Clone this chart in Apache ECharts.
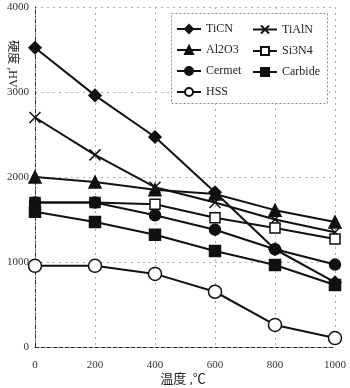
<!DOCTYPE html>
<html><head><meta charset="utf-8">
<script src="https://cdn.jsdelivr.net/npm/echarts@6/dist/echarts.min.js"></script>
<style>html,body{margin:0;padding:0;background:#fff}#c{width:350px;height:388px}</style>
</head><body><div id="c"></div>
<script>
const temps = [0, 200, 400, 600, 800, 1000];
const TiCN    = [3520, 2960, 2470, 1820, 1150, 760];
const TiAlN   = [2700, 2260, 1880, 1700, 1500, 1350];
const Al2O3   = [2000, 1940, 1850, 1800, 1610, 1470];
const Si3N4   = [1700, 1700, 1680, 1520, 1400, 1270];
const Cermet  = [1700, 1700, 1550, 1380, 1150, 970];
const Carbide = [1590, 1470, 1320, 1130, 965, 730];
const HSS     = [955, 955, 860, 650, 260, 105];
const xTicks = [0, 200, 400, 600, 800, 1000];
const yTicks = [0, 1000, 2000, 3000, 4000];

const serif = 'Liberation Serif, "Noto Sans CJK SC", serif';
const chart = echarts.init(document.getElementById('c'));
const xPath = 'path://M0,0L10,10M10,0L0,10';
function mk(name, data, symbol, size, extra) {
  return Object.assign({
    name, type: 'line', data: temps.map((t, i) => [t, data[i]]),
    symbol, symbolSize: size, showSymbol: true,
    lineStyle: { color: '#111', width: 2 },
    itemStyle: { color: '#111', borderColor: '#111', borderWidth: 1.5 },
    z: 3
  }, extra || {});
}
const series = [
  mk('TiCN', TiCN, 'diamond', 12),
  mk('TiAlN', TiAlN, xPath, 11, { itemStyle: { color: 'none', borderColor: '#111', borderWidth: 1.5 } }),
  mk('Al2O3', Al2O3, 'triangle', 12),
  mk('Si3N4', Si3N4, 'rect', 10, { itemStyle: { color: '#fff', borderColor: '#111', borderWidth: 1.5 } }),
  mk('Cermet', Cermet, 'circle', 11),
  mk('Carbide', Carbide, 'rect', 11),
  mk('HSS', HSS, 'circle', 13, { itemStyle: { color: '#fff', borderColor: '#111', borderWidth: 1.5 } })
];
const legendBase = {
  orient: 'vertical', itemWidth: 24, itemHeight: 10, itemGap: 9,
  textStyle: { fontFamily: serif, fontSize: 12, color: '#222' },
  padding: 0, selectedMode: false
};
chart.setOption({
  animation: false,
  backgroundColor: '#fff',
  grid: { left: 35, right: 15, top: 7, bottom: 41 },
  xAxis: {
    type: 'value', min: 0, max: 1000, interval: 200,
    axisLine: { show: true, onZero: false, lineStyle: { color: '#333', type: 'dashed', width: 1 } },
    axisTick: { show: false },
    axisLabel: { fontFamily: serif, fontSize: 11, color: '#333', margin: 13,
      formatter: v => xTicks.includes(v) ? String(v) : '' },
    splitLine: { show: true, lineStyle: { color: '#aaa', type: [2, 4], width: 1 } }
  },
  yAxis: {
    type: 'value', min: 0, max: 4000, interval: 1000,
    axisLine: { show: true, lineStyle: { color: '#333', type: [4, 2, 1, 2], width: 1 } },
    axisTick: { show: false },
    axisLabel: { fontFamily: serif, fontSize: 11, color: '#333', margin: 6,
      formatter: v => yTicks.includes(v) ? String(v) : '' },
    splitLine: { show: true, lineStyle: { color: '#aaa', type: [2, 4], width: 1 } }
  },
  legend: [
    Object.assign({}, legendBase, { left: 176, top: 23, data: ['TiCN', 'Al2O3', 'Cermet', 'HSS'] }),
    Object.assign({}, legendBase, { left: 252, top: 23, data: ['TiAlN', 'Si3N4', 'Carbide'] })
  ],
  graphic: [
    { type: 'rect', left: 171, top: 13, shape: { width: 156, height: 90 },
      style: { fill: '#fff', stroke: '#888', lineWidth: 1, lineDash: [2, 2] }, z: 1 },
    { type: 'text', x: 12, y: 64, rotation: -Math.PI / 2,
      style: { text: '硬度 ,HV', font: '12px ' + serif, fill: '#222', textAlign: 'center', textVerticalAlign: 'middle' } },
    { type: 'text', x: 183, y: 380,
      style: { text: '温度 ,℃', font: '13px ' + serif, fill: '#222', textAlign: 'center', textVerticalAlign: 'middle' } }
  ],
  series
});
</script></body></html>
